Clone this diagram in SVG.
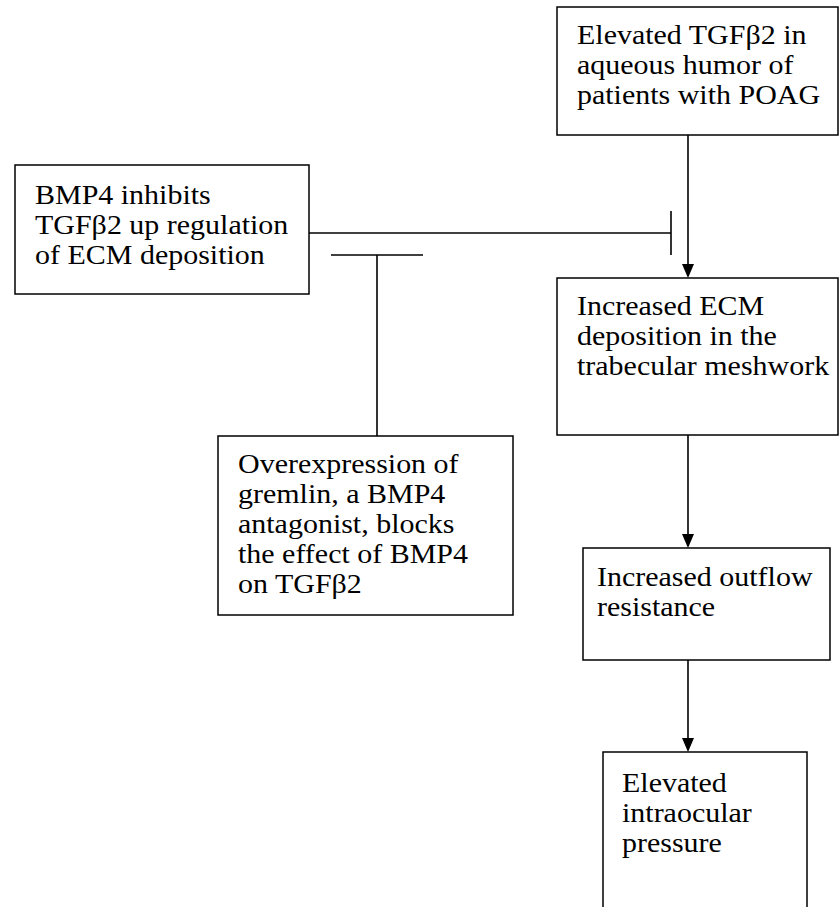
<svg xmlns="http://www.w3.org/2000/svg" width="840" height="907" viewBox="0 0 840 907">
<defs>
<style>
.box{fill:#fff;stroke:#000;stroke-width:1.5}
.t{font-family:"Liberation Serif","Times New Roman",serif;font-size:27px;fill:#000}
.c{stroke:#000;stroke-width:1.6;fill:none}
.ah{fill:#000;stroke:none}
</style>
</defs>
<rect width="840" height="907" fill="#fff"/>
<g id="connectors">
<line class="c" x1="688" y1="135" x2="688" y2="266"/>
<line class="c" x1="309" y1="233" x2="671" y2="233"/>
<line class="c" x1="671" y1="211" x2="671" y2="255"/>
<line class="c" x1="377" y1="436" x2="377" y2="255"/>
<line class="c" x1="331" y1="255" x2="423" y2="255"/>
<line class="c" x1="688" y1="435" x2="688" y2="536"/>
<line class="c" x1="688" y1="660" x2="688" y2="740"/>
<path class="ah" d="M682,264 L694,264 L688,278 Z"/>
<path class="ah" d="M682,534 L694,534 L688,548 Z"/>
<path class="ah" d="M682,738 L694,738 L688,752 Z"/>
</g>
<g id="nodeA">
<rect class="box" x="557" y="7" width="281" height="128"/>
<g transform="translate(577,0) scale(1.111,1)">
<text class="t" x="0" y="44.5">Elevated TGFβ2 in</text>
<text class="t" x="0" y="74.5">aqueous humor of</text>
<text class="t" x="0" y="104.5">patients with POAG</text>
</g>
</g>
<g id="nodeB">
<rect class="box" x="15" y="165" width="294" height="129"/>
<g transform="translate(35,0) scale(1.111,1)">
<text class="t" x="0" y="204">BMP4 inhibits</text>
<text class="t" x="0" y="234">TGFβ2 up regulation</text>
<text class="t" x="0" y="264">of ECM deposition</text>
</g>
</g>
<g id="nodeC">
<rect class="box" x="557" y="278" width="281" height="157"/>
<g transform="translate(577,0) scale(1.111,1)">
<text class="t" x="0" y="315">Increased ECM</text>
<text class="t" x="0" y="345">deposition in the</text>
<text class="t" x="0" y="375">trabecular meshwork</text>
</g>
</g>
<g id="nodeD">
<rect class="box" x="218" y="436" width="295" height="179"/>
<g transform="translate(238,0) scale(1.111,1)">
<text class="t" x="0" y="473">Overexpression of</text>
<text class="t" x="0" y="503">gremlin, a BMP4</text>
<text class="t" x="0" y="533">antagonist, blocks</text>
<text class="t" x="0" y="563">the effect of BMP4</text>
<text class="t" x="0" y="593">on TGFβ2</text>
</g>
</g>
<g id="nodeE">
<rect class="box" x="583" y="548" width="247" height="112"/>
<g transform="translate(597,0) scale(1.111,1)">
<text class="t" x="0" y="586.5">Increased outflow</text>
<text class="t" x="0" y="616.5">resistance</text>
</g>
</g>
<g id="nodeF">
<rect class="box" x="603" y="752" width="204" height="170"/>
<g transform="translate(622,0) scale(1.111,1)">
<text class="t" x="0" y="792">Elevated</text>
<text class="t" x="0" y="822">intraocular</text>
<text class="t" x="0" y="852">pressure</text>
</g>
</g>
</svg>
